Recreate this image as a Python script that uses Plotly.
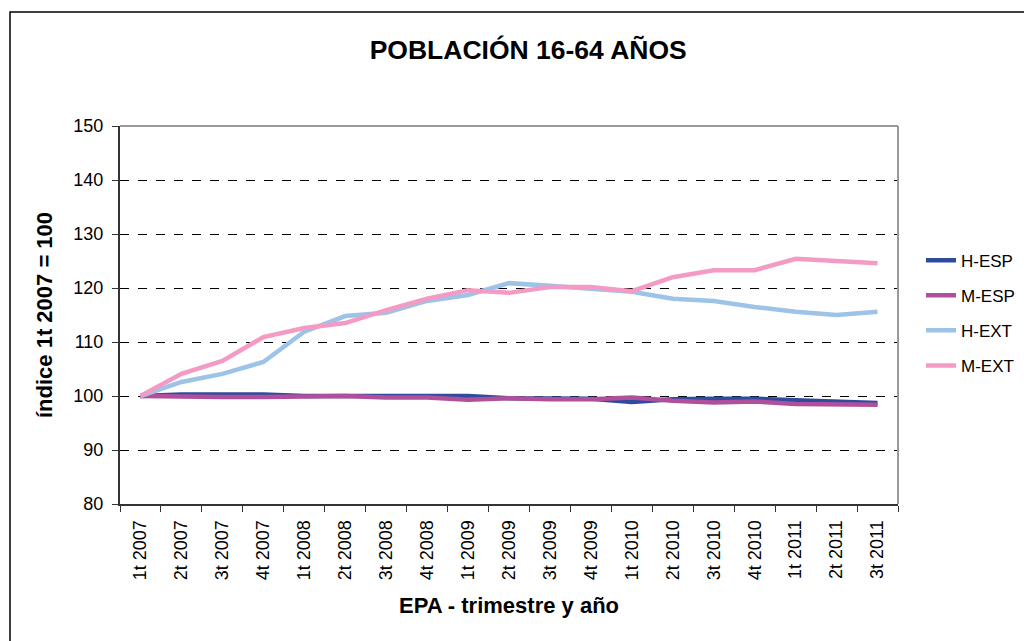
import plotly.graph_objects as go

# trimestres EPA
categorias = ['1t 2007', '2t 2007', '3t 2007', '4t 2007',
              '1t 2008', '2t 2008', '3t 2008', '4t 2008',
              '1t 2009', '2t 2009', '3t 2009', '4t 2009',
              '1t 2010', '2t 2010', '3t 2010', '4t 2010',
              '1t 2011', '2t 2011', '3t 2011']

# indice 1t 2007 = 100
h_esp = [100, 100.3, 100.3, 100.3, 100.0, 100.0, 100.0, 100.0, 100.0, 99.6,
         99.5, 99.5, 98.9, 99.4, 99.5, 99.5, 99.2, 99.0, 98.7]
m_esp = [100, 99.8, 99.8, 99.8, 99.8, 100.0, 99.7, 99.7, 99.3, 99.6,
         99.4, 99.4, 99.7, 99.1, 98.8, 99.0, 98.5, 98.4, 98.4]
h_ext = [100, 102.6, 104.1, 106.3, 111.9, 114.8, 115.4, 117.6, 118.7, 120.9,
         120.4, 119.8, 119.3, 118.0, 117.6, 116.5, 115.6, 115.0, 115.6]
m_ext = [100, 104.1, 106.5, 110.9, 112.6, 113.5, 115.9, 118.0, 119.6, 119.1,
         120.2, 120.2, 119.4, 122.0, 123.3, 123.3, 125.4, 125.0, 124.6]

series = [('H-ESP', h_esp, '#2F4C9C'),
          ('M-ESP', m_esp, '#B0509C'),
          ('H-EXT', h_ext, '#9DC3E8'),
          ('M-EXT', m_ext, '#F39BC4')]

fig = go.Figure()
for name, vals, color in series:
    fig.add_trace(go.Scatter(x=categorias, y=vals, name=name, mode='lines',
                             legendgroup=name,
                             line=dict(color=color, width=4.5)))

font = 'Arial, Liberation Sans, sans-serif'

# la página añade 8px de margen al cuerpo, de ahí 1024x633
W, H = 1024, 633
L, R, T, B = 112, 134, 118, 137
pw, ph = W - L - R, H - T - B

fig.update_layout(
    width=W, height=H,
    margin=dict(l=L, r=R, t=T, b=B),
    paper_bgcolor='white', plot_bgcolor='white',
    font=dict(family=font, color='black', size=18),
    title=dict(text='<b>POBLACIÓN 16-64 AÑOS</b>', x=0.508, xanchor='center',
               y=0.934, yanchor='middle', font=dict(size=26.5)),
    legend=dict(x=(913 - L) / pw, xanchor='left', y=0.505, yanchor='middle',
                font=dict(size=17), tracegroupgap=10, itemwidth=30,
                bgcolor='rgba(0,0,0,0)'),
    showlegend=True,
)

fig.update_xaxes(
    type='category', range=[-0.5, len(categorias) - 0.5], automargin=False,
    showline=True, linecolor='#333333', linewidth=2,
    ticks='outside', tickson='boundaries', ticklen=6, tickcolor='#333333',
    tickangle=-90, showgrid=False, ticklabelstandoff=7,
    title=dict(text='<b>EPA - trimestre y año</b>', standoff=18),
)
fig.update_yaxes(
    range=[80, 150], dtick=10, automargin=False,
    showline=True, linecolor='#333333', linewidth=2,
    ticks='outside', ticklen=6, tickcolor='#333333', ticklabelstandoff=5,
    showgrid=True, gridcolor='black', griddash='dash', gridwidth=1,
    zeroline=False,
    title=dict(text='<b>índice 1t 2007 = 100</b>', standoff=15),
)

# borde gris superior y derecho del área de trazado
fig.add_shape(type='line', xref='paper', yref='paper', x0=0, x1=1, y0=1, y1=1,
              line=dict(color='#999999', width=2))
fig.add_shape(type='line', xref='paper', yref='paper', x0=1, x1=1, y0=0, y1=1,
              line=dict(color='#999999', width=2))
# marco exterior del gráfico
fig.add_shape(type='rect', xref='paper', yref='paper',
              x0=(2 - L) / pw, x1=(W + 20 - L) / pw,
              y0=(T + ph - H - 20) / ph, y1=(T + ph - 4) / ph,
              line=dict(color='black', width=1.5))

fig.write_html('out.html')
